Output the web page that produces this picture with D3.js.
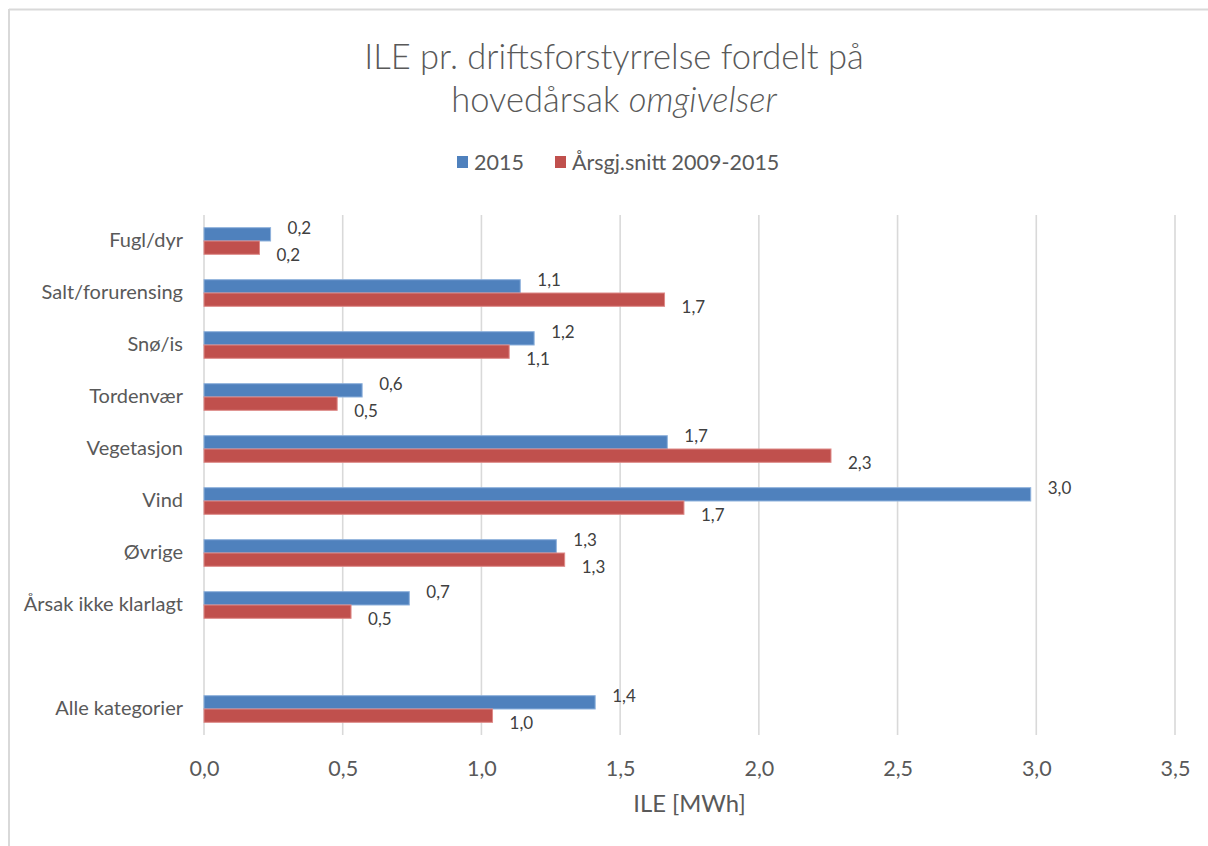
<!DOCTYPE html>
<html>
<head>
<meta charset="utf-8">
<script src="https://cdn.jsdelivr.net/npm/d3@7"></script>
<style>
  html, body { margin: 0; padding: 0; background: #fff; }
  svg { display: block; font-family: Lato, "Open Sans", sans-serif; }
</style>
</head>
<body>
<svg id="chart" width="1208" height="846"></svg>
<script>
// ---- data ----
const categories = ["Fugl/dyr", "Salt/forurensing", "Snø/is", "Tordenvær", "Vegetasjon", "Vind", "Øvrige", "Årsak ikke klarlagt", "", "Alle kategorier"];
const seriesNames = ["2015", "Årsgj.snitt 2009-2015"];
const values2015 = [0.24, 1.14, 1.19, 0.57, 1.67, 2.98, 1.27, 0.74, null, 1.41];
const valuesAvg  = [0.20, 1.66, 1.10, 0.48, 2.26, 1.73, 1.30, 0.53, null, 1.04];
const labels2015 = ["0,2", "1,1", "1,2", "0,6", "1,7", "3,0", "1,3", "0,7", null, "1,4"];
const labelsAvg  = ["0,2", "1,7", "1,1", "0,5", "2,3", "1,7", "1,3", "0,5", null, "1,0"];
const xTicks = [0, 0.5, 1.0, 1.5, 2.0, 2.5, 3.0, 3.5];
const xTickLabels = ["0,0", "0,5", "1,0", "1,5", "2,0", "2,5", "3,0", "3,5"];
const titleLine1 = "ILE pr. driftsforstyrrelse fordelt på";
const titleLine2a = "hovedårsak ";
const titleLine2b = "omgivelser";
const xAxisTitle = "ILE [MWh]";
const colors = ["#4f81bd", "#c0504d"];
const strokeColors = ["#8eb1dc", "#de8a88"];

// ---- layout ----
const svg = d3.select("#chart");
const plot = { left: 204, right: 1175, top: 215, bottom: 735 };
const keys = categories.map((c, i) => i);

const x = d3.scaleLinear().domain([0, 3.5]).range([plot.left, plot.right]);
const y = d3.scaleBand().domain(keys).range([plot.top, plot.bottom]).paddingInner(0).paddingOuter(0);
const groupH = y.bandwidth() * 0.512;
const ySub = d3.scaleBand().domain([0, 1]).range([0, groupH]);

// chart border (left + top)
svg.append("line").attr("x1", 9).attr("x2", 1208).attr("y1", 9.5).attr("y2", 9.5)
  .attr("stroke", "#d9d9d9").attr("stroke-width", 2);
svg.append("line").attr("x1", 9).attr("x2", 9).attr("y1", 9).attr("y2", 846)
  .attr("stroke", "#d9d9d9").attr("stroke-width", 2);

// title
const title = svg.append("text").attr("text-anchor", "middle").attr("fill", "#595959")
  .style("font-size", "34.5px").style("font-weight", 300);
title.append("tspan").attr("x", 614).attr("y", 69).text(titleLine1);
const t2 = title.append("tspan").attr("x", 614).attr("y", 112);
t2.append("tspan").text(titleLine2a);
t2.append("tspan").attr("font-style", "italic").text(titleLine2b);

// legend
const legendX = [457, 555];
seriesNames.forEach((name, i) => {
  const g = svg.append("g").attr("transform", `translate(${legendX[i]},162)`);
  g.append("rect").attr("x", 0).attr("y", -6).attr("width", 11).attr("height", 12).attr("fill", colors[i]);
  g.append("text").attr("x", 17).attr("y", 7.5).attr("fill", "#595959").style("font-size", "21.5px").text(name);
});

// gridlines
svg.append("g").selectAll("line").data(xTicks).join("line")
  .attr("x1", d => x(d)).attr("x2", d => x(d))
  .attr("y1", plot.top).attr("y2", plot.bottom)
  .attr("stroke", "#d9d9d9").attr("stroke-width", 1.6);

// x axis (labels only)
const xAxis = d3.axisBottom(x).tickValues(xTicks).tickFormat((d, i) => xTickLabels[i]).tickSize(0).tickPadding(0);
const gx = svg.append("g").attr("transform", `translate(0,${plot.bottom})`).call(xAxis);
gx.select(".domain").remove();
gx.selectAll("text").attr("fill", "#595959").style("font-size", "21.5px")
  .style("font-family", "Lato, 'Open Sans', sans-serif").attr("y", 41).attr("dy", 0);

// y axis (labels only)
const yAxis = d3.axisLeft(y).tickFormat(i => categories[i]).tickSize(0).tickPadding(21);
const gy = svg.append("g").attr("transform", `translate(${plot.left},0)`).call(yAxis);
gy.select(".domain").remove();
gy.selectAll("text").attr("fill", "#595959").style("font-size", "20px").style("font-family", "Lato, 'Open Sans', sans-serif");

// x axis title
svg.append("text").attr("x", (plot.left + plot.right) / 2).attr("y", 812)
  .attr("text-anchor", "middle").attr("fill", "#595959").style("font-size", "23.8px").text(xAxisTitle);

// bars
const seriesVals = [values2015, valuesAvg];
const seriesLabels = [labels2015, labelsAvg];
const labelDy = [-6, 7];
seriesVals.forEach((vals, s) => {
  const data = keys.filter(i => vals[i] != null).map(i => ({ i, v: vals[i], l: seriesLabels[s][i] }));
  const yTop = d => y(d.i) + (y.bandwidth() - groupH) / 2 + ySub(s);
  svg.append("g").selectAll("rect").data(data).join("rect")
    .attr("x", x(0))
    .attr("y", yTop)
    .attr("width", d => x(d.v) - x(0))
    .attr("height", ySub.bandwidth())
    .attr("fill", colors[s])
    .attr("stroke", strokeColors[s]).attr("stroke-width", 1);
  svg.append("g").selectAll("text").data(data).join("text")
    .attr("x", d => x(d.v) + 17)
    .attr("y", d => yTop(d) + ySub.bandwidth() / 2 + labelDy[s])
    .attr("dy", "0.35em")
    .attr("fill", "#404040").style("font-size", "17px")
    .text(d => d.l);
});
</script>
</body>
</html>
